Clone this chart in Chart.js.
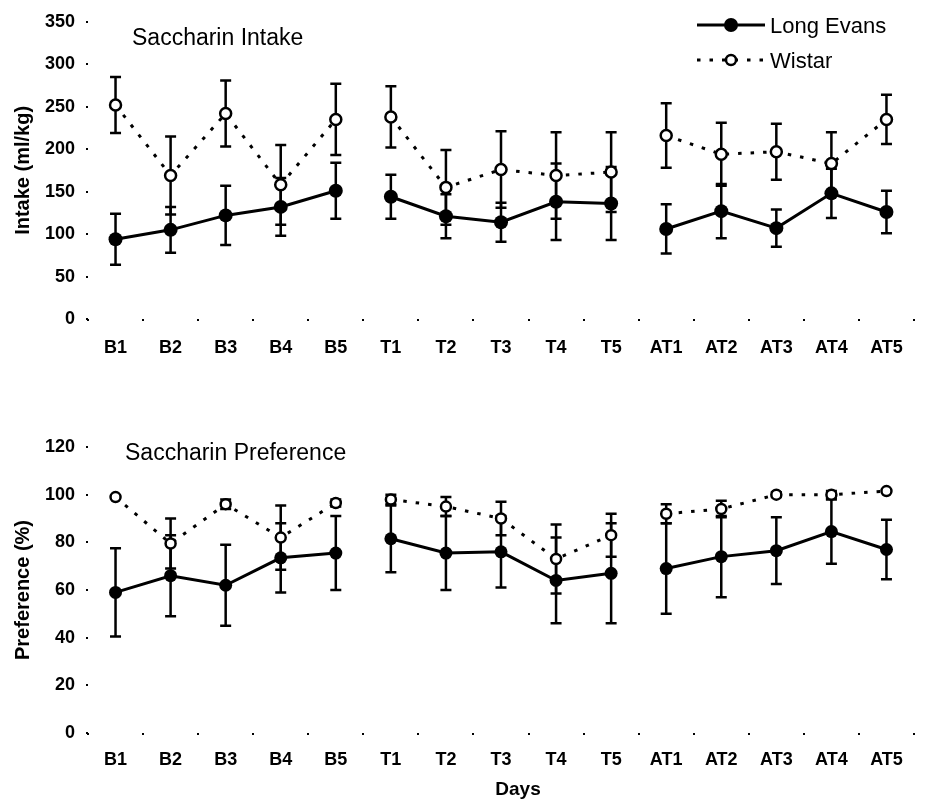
<!DOCTYPE html>
<html lang="en">
<head>
<meta charset="UTF-8">
<title>Saccharin intake and preference</title>
<script src="https://cdn.jsdelivr.net/npm/chart.js"></script>
<style>
  body { margin: 0; background: #fff; }
  .panel { position: relative; width: 938px; }
  #intakePanel { height: 400px; }
  #prefPanel { height: 403px; }
</style>
</head>
<body>
<div class="panel" id="intakePanel"><canvas id="intakeChart"></canvas></div>
<div class="panel" id="prefPanel"><canvas id="prefChart"></canvas></div>

<script>
const days = ['B1', 'B2', 'B3', 'B4', 'B5', 'T1', 'T2', 'T3', 'T4', 'T5', 'AT1', 'AT2', 'AT3', 'AT4', 'AT5'];
// no line joins the last day of one phase to the first day of the next
const phaseEnds = [4, 9];

// saccharin intake, ml/kg (mean and error)
const intakeLongEvans = [94, 105, 122, 132, 151, 144, 121, 114, 138, 136, 106, 127, 107, 148, 126];
const intakeLongEvansErr = [30, 27, 35, 34, 33, 26, 26, 23, 45, 43, 29, 32, 22, 29, 25];
const intakeWistar = [252, 169, 242, 158, 235, 238, 155, 176, 169, 173, 216, 194, 197, 183, 235];
const intakeWistarErr = [33, 46, 39, 47, 42, 36, 44, 45, 51, 47, 38, 37, 33, 37, 29];

// saccharin preference, %
const prefLongEvans = [59, 66, 62, 73.5, 75.5, 81.5, 75.5, 76, 64, 67, 69, 74, 76.5, 84.5, 77];
const prefLongEvansErr = [18.5, 17, 17, 14.5, 15.5, 14, 15.5, 15, 18, 21, 19, 17, 14, 13.5, 12.5];
const prefWistar = [99, 79.5, 96, 82, 96.5, 98, 95, 90, 73, 83, 92, 94, 100, 100, 101.5];
const prefWistarErr = [0.5, 10.5, 2, 13.5, 1.5, 2, 4, 7, 14.5, 9, 4, 3.5, 1, 1.5, 0];

const FONT = "'Liberation Sans', Arial, Helvetica, sans-serif";
Chart.defaults.font.family = FONT;
Chart.defaults.color = '#000';

// vertical error bars with caps, drawn under the lines and markers
const errorBars = {
  id: 'errorBars',
  beforeDatasetsDraw(chart) {
    const { ctx } = chart;
    const y = chart.scales.y;
    ctx.save();
    ctx.strokeStyle = '#000';
    ctx.lineWidth = 2.5;
    chart.data.datasets.forEach((ds, i) => {
      const meta = chart.getDatasetMeta(i);
      ds.errors.forEach((e, j) => {
        const px = meta.data[j].x;
        const hi = y.getPixelForValue(ds.data[j] + e);
        const lo = y.getPixelForValue(ds.data[j] - e);
        ctx.beginPath();
        ctx.moveTo(px, hi); ctx.lineTo(px, lo);
        ctx.moveTo(px - 5.5, hi); ctx.lineTo(px + 5.5, hi);
        ctx.moveTo(px - 5.5, lo); ctx.lineTo(px + 5.5, lo);
        ctx.stroke();
      });
    });
    ctx.restore();
  }
};

// panel heading, legend and x axis caption
const panelText = {
  id: 'panelText',
  afterDraw(chart, args, opts) {
    const { ctx, chartArea } = chart;
    ctx.save();
    ctx.fillStyle = '#000';
    ctx.textBaseline = 'alphabetic';
    ctx.font = '23px ' + FONT;
    ctx.fillText(opts.heading, chartArea.left + opts.headingDx, chartArea.top + opts.headingDy);

    if (opts.legend) {
      const x0 = chartArea.right - 217, x1 = chartArea.right - 149, cx = chartArea.right - 183;
      const rows = [
        { label: 'Long Evans', y: 25, dash: [], fill: '#000', r: 7 },
        { label: 'Wistar', y: 60, dash: [3.5, 9], fill: '#fff', r: 5 }
      ];
      rows.forEach(row => {
        ctx.strokeStyle = '#000';
        ctx.lineWidth = 3;
        ctx.setLineDash(row.dash);
        ctx.beginPath();
        ctx.moveTo(x0, row.y); ctx.lineTo(x1, row.y);
        ctx.stroke();
        ctx.setLineDash([]);
        ctx.beginPath();
        ctx.arc(cx, row.y, row.r, 0, Math.PI * 2);
        ctx.fillStyle = row.fill;
        ctx.fill();
        if (row.fill === '#fff') { ctx.lineWidth = 2.5; ctx.stroke(); }
        ctx.fillStyle = '#000';
        ctx.font = '22px ' + FONT;
        ctx.fillText(row.label, x1 + 5, row.y + 8);
      });
    }

    if (opts.xCaption) {
      ctx.font = 'bold 19px ' + FONT;
      ctx.textAlign = 'center';
      ctx.fillText(opts.xCaption, (chartArea.left + chartArea.right) / 2 + 17, chart.height - 8);
    }
    ctx.restore();
  }
};

function seriesSets(le, leErr, wi, wiErr, sizes) {
  const gap = ctx => (phaseEnds.includes(ctx.p0DataIndex) ? 'rgba(0,0,0,0)' : undefined);
  return [
    {
      label: 'Long Evans',
      data: le,
      errors: leErr,
      borderColor: '#000',
      borderWidth: 3,
      pointRadius: sizes.le,
      pointBackgroundColor: '#000',
      pointBorderWidth: 0,
      segment: { borderColor: gap }
    },
    {
      label: 'Wistar',
      data: wi,
      errors: wiErr,
      borderColor: '#000',
      borderWidth: 3,
      borderDash: [3.5, 9],
      pointRadius: sizes.wi,
      pointBackgroundColor: '#fff',
      pointBorderColor: '#000',
      pointBorderWidth: 2.5,
      segment: { borderColor: gap }
    }
  ];
}

function scales(yMax, yStep, yTitle, xHeight, xPad) {
  return {
    x: {
      offset: true,
      grid: { offset: true, drawOnChartArea: false, tickLength: 2, lineWidth: 2, color: '#000' },
      border: { display: false },
      ticks: { color: '#000', font: { size: 18, weight: 'bold' }, padding: xPad, maxRotation: 0, autoSkip: false },
      afterFit: s => { s.height = xHeight; }
    },
    y: {
      min: 0,
      max: yMax,
      grid: { drawOnChartArea: false, tickLength: 2, lineWidth: 2, color: '#000' },
      border: { display: false },
      ticks: { stepSize: yStep, color: '#000', font: { size: 18, weight: 'bold' }, padding: 11 },
      title: { display: true, text: yTitle, color: '#000', font: { size: 20, weight: 'bold' }, padding: { top: 11 } },
      afterFit: s => { s.width = 88; }
    }
  };
}

new Chart(document.getElementById('intakeChart'), {
  type: 'line',
  data: {
    labels: days,
    datasets: seriesSets(intakeLongEvans, intakeLongEvansErr, intakeWistar, intakeWistarErr, { le: 7, wi: 5.5 })
  },
  options: {
    responsive: true,
    maintainAspectRatio: false,
    animation: false,
    events: [],
    layout: { padding: { top: 20, right: 24, bottom: 0, left: 0 } },
    scales: scales(350, 50, 'Intake (ml/kg)', 81, 16),
    plugins: {
      legend: { display: false },
      tooltip: { enabled: false },
      panelText: { heading: 'Saccharin Intake', headingDx: 44, headingDy: 23, legend: true }
    }
  },
  plugins: [errorBars, panelText]
});

new Chart(document.getElementById('prefChart'), {
  type: 'line',
  data: {
    labels: days,
    datasets: seriesSets(prefLongEvans, prefLongEvansErr, prefWistar, prefWistarErr, { le: 6.5, wi: 5 })
  },
  options: {
    responsive: true,
    maintainAspectRatio: false,
    animation: false,
    events: [],
    layout: { padding: { top: 47, right: 24, bottom: 0, left: 0 } },
    scales: scales(120, 20, 'Preference (%)', 70, 14),
    plugins: {
      legend: { display: false },
      tooltip: { enabled: false },
      panelText: { heading: 'Saccharin Preference', headingDx: 37, headingDy: 13, xCaption: 'Days' }
    }
  },
  plugins: [errorBars, panelText]
});
</script>
</body>
</html>
